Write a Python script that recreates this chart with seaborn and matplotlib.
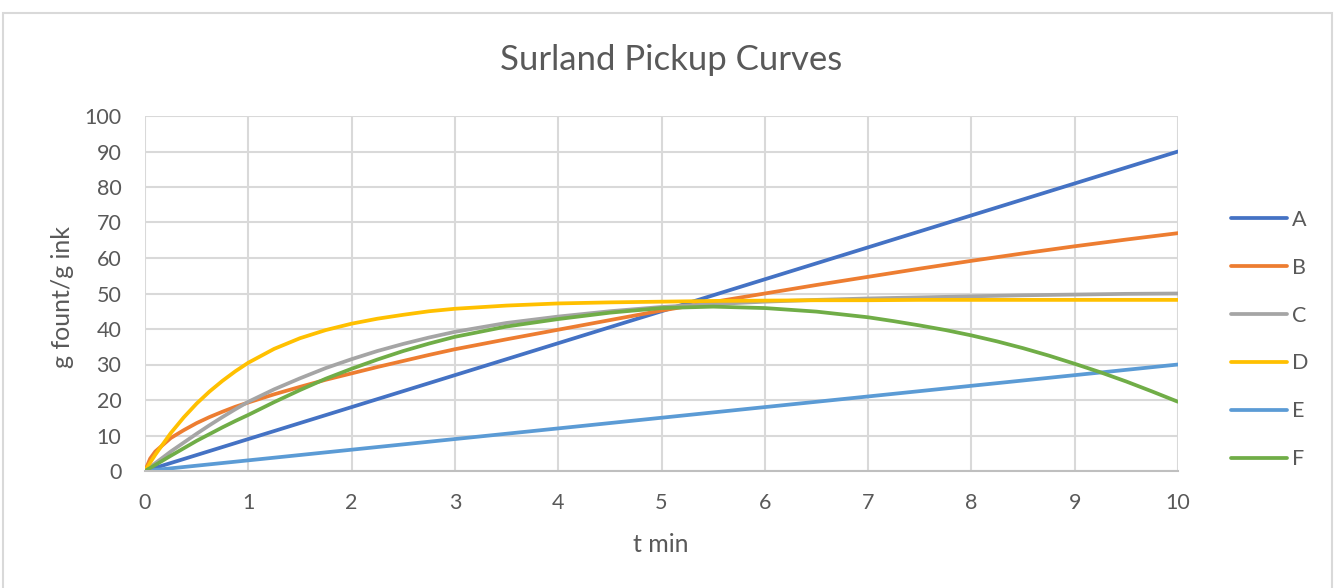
import matplotlib
matplotlib.use("Agg")
import matplotlib.pyplot as plt
from matplotlib.patches import Rectangle
from matplotlib.lines import Line2D
import seaborn as sns
import pandas as pd

# Sample times (minutes)
t = [0, 0.05, 0.1, 0.25, 0.375, 0.5, 0.625, 0.75, 0.875, 1, 1.25, 1.5, 1.75, 2,
     2.25, 2.5, 2.75, 3, 3.5, 4, 4.5, 5, 5.5, 6, 6.5, 7, 7.25, 7.5, 7.75, 8,
     8.25, 8.5, 8.75, 9, 9.25, 9.5, 9.75, 10]

# Pickup (g fount / g ink) per curve
A = [0, 0.45, 0.9, 2.25, 3.375, 4.5, 5.625, 6.75, 7.875, 9, 11.25, 13.5, 15.75, 18,
     20.25, 22.5, 24.75, 27, 31.5, 36, 40.5, 45, 49.5, 54, 58.5, 63, 65.25, 67.5, 69.75, 72,
     74.25, 76.5, 78.75, 81, 83.25, 85.5, 87.75, 90]
B = [0, 3.5, 5.5, 9.3, 11.5, 13.5, 15.2, 16.7, 18.1, 19.3, 21.6, 23.7, 25.7, 27.5,
     29.3, 31.0, 32.7, 34.3, 37.1, 39.8, 42.5, 45.2, 47.6, 50.0, 52.4, 54.7, 55.85, 57.0, 58.1, 59.2,
     60.25, 61.3, 62.3, 63.3, 64.25, 65.2, 66.1, 67.0]
C = [0, 1.1, 2.2, 5.5, 8.0, 10.5, 12.9, 15.2, 17.4, 19.5, 23.0, 26.1, 29.0, 31.5,
     33.8, 35.8, 37.6, 39.2, 41.7, 43.5, 45.0, 46.2, 47.0, 47.7, 48.2, 48.6, 48.75, 48.9, 49.05, 49.2,
     49.35, 49.5, 49.6, 49.7, 49.8, 49.9, 49.95, 50.0]
D = [0, 2.35, 4.6, 10.7, 15.1, 19.0, 22.4, 25.4, 28.1, 30.5, 34.4, 37.4, 39.7, 41.5,
     42.9, 44.0, 45.0, 45.7, 46.6, 47.2, 47.5, 47.7, 47.9, 48.0, 48.1, 48.1, 48.15, 48.2, 48.2, 48.2,
     48.2, 48.2, 48.2, 48.2, 48.2, 48.2, 48.2, 48.2]
E = [0, 0.15, 0.3, 0.75, 1.125, 1.5, 1.875, 2.25, 2.625, 3, 3.75, 4.5, 5.25, 6,
     6.75, 7.5, 8.25, 9, 10.5, 12, 13.5, 15, 16.5, 18, 19.5, 21, 21.75, 22.5, 23.25, 24,
     24.75, 25.5, 26.25, 27, 27.75, 28.5, 29.25, 30]
F = [0, 0.85, 1.7, 4.3, 6.4, 8.5, 10.4, 12.3, 14.1, 15.8, 19.4, 22.8, 26.0, 28.8,
     31.4, 33.8, 35.9, 37.8, 40.7, 42.8, 44.6, 45.9, 46.3, 45.9, 44.9, 43.3, 42.2, 41.0, 39.7, 38.2,
     36.5, 34.6, 32.5, 30.2, 27.8, 25.2, 22.4, 19.5]

series_names = ["A", "B", "C", "D", "E", "F"]
series_values = [A, B, C, D, E, F]
colors = ["#4472C4", "#ED7D31", "#A5A5A5", "#FFC000", "#5B9BD5", "#70AD47"]

x_ticks = list(range(0, 11))
y_ticks = list(range(0, 101, 10))

rows = []
for name, vals in zip(series_names, series_values):
    for ti, v in zip(t, vals):
        rows.append({"t": ti, "value": v, "curve": name})
df = pd.DataFrame(rows)

sns.set_theme(style="white")
plt.rcParams["font.family"] = ["Lato", "DejaVu Sans"]

text_color = "#595959"
grid_color = "#d9d9d9"
W, H = 1338, 588

fig = plt.figure(figsize=(W / 100, H / 100), dpi=100)
fig.patch.set_facecolor("white")

# chart-area frame
fig.patches.append(Rectangle((3 / W, -0.01), 1329 / W, (H - 13) / H + 0.01,
                             transform=fig.transFigure, fill=False,
                             edgecolor=grid_color, linewidth=1.5, zorder=0))

ax = fig.add_axes([145 / W, 1 - 471 / H, (1178 - 145) / W, (471 - 116) / H])

sns.lineplot(data=df, x="t", y="value", hue="curve", hue_order=series_names,
             palette=colors, linewidth=2.7, ax=ax, legend=False,
             estimator=None, sort=True)
for line in ax.lines:
    line.set_solid_joinstyle("round")
    line.set_solid_capstyle("round")

ax.set_xlim(0, 10)
ax.set_ylim(0, 100)
ax.set_xticks(x_ticks)
ax.set_yticks(y_ticks)
ax.grid(True, color=grid_color, linewidth=1.5)
ax.set_axisbelow(True)
for s in ["top", "right", "left"]:
    ax.spines[s].set_visible(False)
ax.spines["bottom"].set_color("#bfbfbf")
ax.spines["bottom"].set_linewidth(1.5)
ax.tick_params(axis="both", length=0, labelsize=15.5, labelcolor=text_color)
ax.tick_params(axis="x", pad=16)
ax.tick_params(axis="y", pad=17)

ax.set_xlabel("t min", fontsize=18, color=text_color)
ax.xaxis.label.set_verticalalignment("center")
ax.xaxis.set_label_coords(661 / W, 1 - 544 / H, transform=fig.transFigure)
ax.set_ylabel("g fount/g ink", fontsize=18, color=text_color)
ax.yaxis.label.set_verticalalignment("center")
ax.yaxis.set_label_coords(63 / W, 1 - 297 / H, transform=fig.transFigure)

fig.text(671 / W, 1 - 60 / H, "Surland Pickup Curves", ha="center", va="center",
         fontsize=25, color=text_color)

handles = [Line2D([0], [0], color=c, linewidth=2.7) for c in colors]
fig.legend(handles, series_names, loc="center left",
           bbox_to_anchor=(1231 / W, 1 - 339.5 / H), frameon=False,
           fontsize=15.5, labelspacing=1.3, handlelength=2.6, handletextpad=0.25,
           borderpad=0, borderaxespad=0, labelcolor=text_color)

fig.savefig("out.png", dpi=100)
